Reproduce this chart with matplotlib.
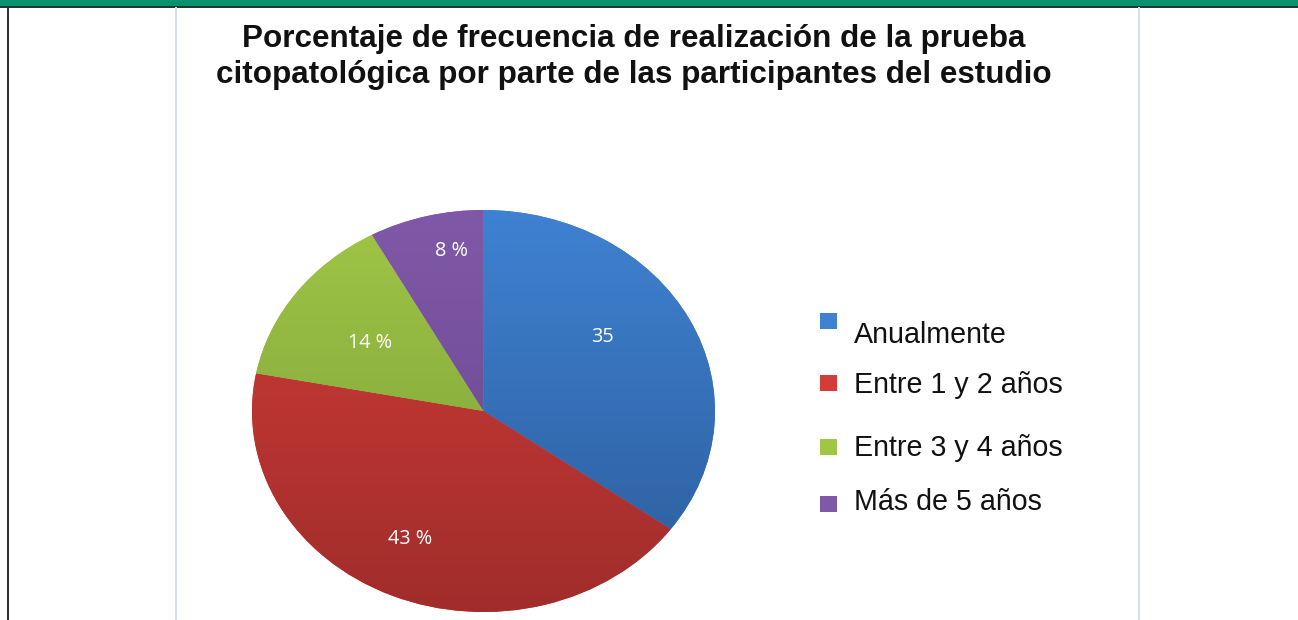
import numpy as np
import matplotlib
matplotlib.use("Agg")
import matplotlib.pyplot as plt
from matplotlib.patches import Rectangle
from matplotlib.colors import LinearSegmentedColormap

# data
categories = ["Anualmente", "Entre 1 y 2 años", "Entre 3 y 4 años", "Más de 5 años"]
values = [35, 43, 14, 8]
value_labels = ["35", "43 %", "14 %", "8 %"]
title = ("Porcentaje de frecuencia de realización de la prueba\n"
         "citopatológica por parte de las participantes del estudio")

# (light top, dark bottom) per slice
shades = [("#3f82d2", "#2c5c9a"),
          ("#d33c38", "#a02d2b"),
          ("#a0c646", "#7a9c38"),
          ("#8058a8", "#66468a")]

W, H = 1298, 620
fig = plt.figure(figsize=(W / 100, H / 100), dpi=100)
fig.patch.set_facecolor("white")

# frame decorations: green band, black left rule, light chart borders
fig.patches.append(Rectangle((0, (H - 6) / H), 1, 6 / H, transform=fig.transFigure,
                             facecolor="#0a9270", edgecolor="none"))
fig.patches.append(Rectangle((0, (H - 7.5) / H), 1, 1.5 / H, transform=fig.transFigure,
                             facecolor="#1d3b30", edgecolor="none"))
fig.patches.append(Rectangle((7 / W, 0), 1.5 / W, (H - 7) / H, transform=fig.transFigure,
                             facecolor="#333333", edgecolor="none"))
for xp in (175, 1138):
    fig.patches.append(Rectangle((xp / W, 0), 1.5 / W, (H - 7) / H, transform=fig.transFigure,
                                 facecolor="#d4def5", edgecolor="none"))

fig.text(634 / W, 1 - 57 / H, title, ha="center", va="center",
         fontsize=22.6, fontweight="bold", family="Liberation Sans",
         linespacing=1.26, color="#111111")

# pie (slightly flattened like the original)
ax = fig.add_axes([252 / W, 8 / H, 463 / W, 402 / H])
wedges, texts = ax.pie(values, startangle=90, counterclock=False,
                       colors=[s[0] for s in shades],
                       wedgeprops=dict(linewidth=0))
ax.set_aspect("auto")
ax.set_xlim(-1, 1)
ax.set_ylim(-1, 1)
ax.axis("off")

grad = np.linspace(0, 1, 256).reshape(-1, 1)
for w, (c1, c2) in zip(wedges, shades):
    cmap = LinearSegmentedColormap.from_list("g", [c1, c2])
    im = ax.imshow(grad, cmap=cmap, extent=(-1, 1, -1, 1), aspect="auto",
                   origin="upper", zorder=2)
    im.set_clip_path(w)

# value labels placed near each slice's mid-angle
theta = 90.0
label_r = [0.632, 0.711, 0.594, 0.808]
label_shift = [8.6, -2.9, 1.3, -4.6]
for v, lab, r, sh in zip(values, value_labels, label_r, label_shift):
    mid = np.deg2rad(theta - v * 3.6 / 2 + sh)
    theta -= v * 3.6
    ax.text(r * np.cos(mid), r * np.sin(mid), lab, ha="center", va="center",
            color="white", fontsize=14.3, family="Open Sans", zorder=3)

# legend
sq_y = [321, 383, 447, 504]
txt_y = [335, 385, 448, 502]
for lab, (c1, c2), sy, ty in zip(categories, shades, sq_y, txt_y):
    fig.patches.append(Rectangle((820 / W, 1 - (sy + 8) / H), 17 / W, 16 / H,
                                 transform=fig.transFigure,
                                 facecolor=c1, edgecolor="none"))
    fig.text(854 / W, 1 - ty / H, lab, ha="left", va="center",
             fontsize=20.6, family="Liberation Sans", color="#111111")

fig.savefig("out.png", dpi=100)
